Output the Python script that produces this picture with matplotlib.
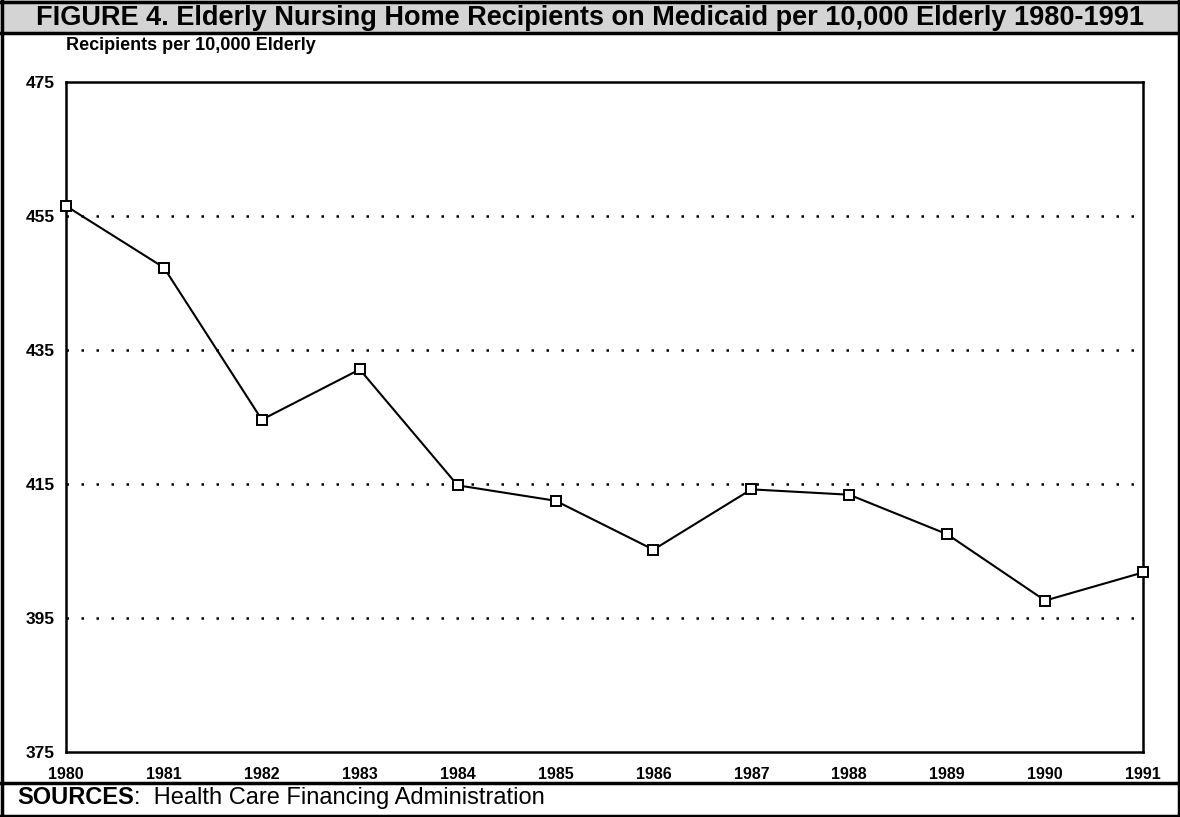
import matplotlib.pyplot as plt
from matplotlib.patches import Rectangle
from matplotlib.lines import Line2D

plt.rcParams['font.family'] = ['Liberation Sans', 'DejaVu Sans']

# 数据
years = [1980, 1981, 1982, 1983, 1984, 1985, 1986, 1987, 1988, 1989, 1990, 1991]
recipients = [456.5, 447.3, 424.6, 432.1, 414.8, 412.5, 405.2, 414.2, 413.4, 407.5, 397.6, 401.8]
y_ticks = [375, 395, 415, 435, 455, 475]
grid_levels = [395, 415, 435, 455]

title = 'FIGURE 4. Elderly Nursing Home Recipients on Medicaid per 10,000 Elderly 1980-1991'
y_title = 'Recipients per 10,000 Elderly'
source = 'Health Care Financing Administration'

W, H = 1180, 817
fig = plt.figure(figsize=(W / 100, H / 100), dpi=100)

# 标题栏和边框
fig.patches.append(Rectangle((0, 1 - 33 / H), 1, 33 / H, transform=fig.transFigure,
                             facecolor='#d4d4d4', edgecolor='none', zorder=0))
for yy in [1 - 2 / H, 1 - 33 / H, 1 - 783 / H, 1.5 / H]:
    fig.add_artist(Line2D([0, 1], [yy, yy], transform=fig.transFigure, color='black', lw=2.5))
for xx in [1.5 / W, 1 - 1.5 / W]:
    fig.add_artist(Line2D([xx, xx], [0, 1], transform=fig.transFigure, color='black', lw=2.5))

fig.text(0.5, 1 - 18 / H, title, ha='center', va='center', fontsize=19.5, fontweight='bold')
fig.text(66 / W, 1 - 46 / H, y_title, ha='left', va='center', fontsize=13, fontweight='bold')
t = fig.text(17 / W, 1 - 798 / H, 'SOURCES', ha='left', va='center', fontsize=17, fontweight='bold')
fig.canvas.draw()
bb = t.get_window_extent()
fig.text(bb.x1 / W, 1 - 798 / H, ':  ' + source, ha='left', va='center', fontsize=17)

# 主图
ax = fig.add_axes([66 / W, 1 - 752 / H, (1143 - 66) / W, (752 - 82) / H])
for g in grid_levels:
    ax.axhline(g, color='black', lw=1.8, linestyle=(0, (1, 5)), zorder=1)
ax.plot(years, recipients, color='black', lw=1.5, marker='s', markersize=6.5,
        markerfacecolor='white', markeredgecolor='black', markeredgewidth=1.4, zorder=3,
        clip_on=False)

ax.set_xlim(1980, 1991)
ax.set_ylim(375, 475)
ax.set_xticks(years)
ax.set_xticklabels([str(y) for y in years], fontsize=11.5, fontweight='bold')
ax.set_yticks(y_ticks)
ax.set_yticklabels([str(v) for v in y_ticks], fontsize=12.5, fontweight='bold')
ax.tick_params(length=0)
ax.tick_params(axis='y', pad=8)
ax.tick_params(axis='x', pad=11)
for s in ax.spines.values():
    s.set_linewidth(1.8)

fig.savefig('out.png', dpi=100)
